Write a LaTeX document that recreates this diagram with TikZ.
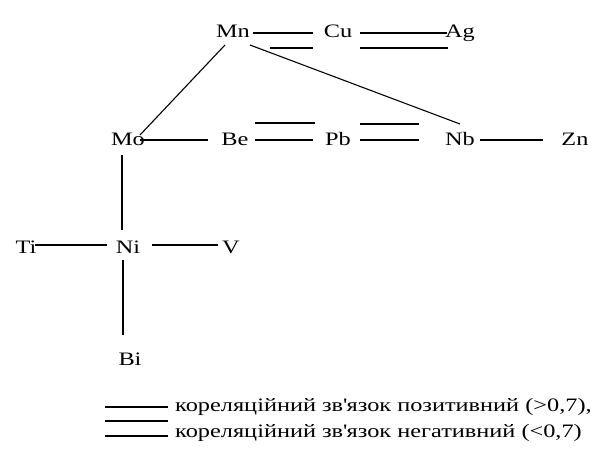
\documentclass[tikz,border=0pt]{standalone}
\usepackage{fontspec}
\setmainfont[FakeStretch=1.28]{Liberation Serif}
\begin{document}
\begin{tikzpicture}[x=1pt,y=-1pt,
  el/.style={inner sep=0pt,anchor=base,font=\fontsize{19}{21}\selectfont},
  lg/.style={inner sep=0pt,anchor=base west,font=\fontsize{19}{21}\selectfont},
  ln/.style={line width=1.1pt}]
\useasboundingbox (0,0) rectangle (592,458);
\node[el] (Mn) at (233,37) {Mn};
\node[el] (Cu) at (338,37) {Cu};
\node[el] (Ag) at (460,37) {Ag};
\node[el] (Mo) at (128,145) {Mo};
\node[el] (Be) at (235,145) {Be};
\node[el] (Pb) at (338,145) {Pb};
\node[el] (Nb) at (460,145) {Nb};
\node[el] (Zn) at (575,145) {Zn};
\node[el] (Ti) at (26,253) {Ti};
\node[el] (Ni) at (128,253) {Ni};
\node[el] (V) at (231,253) {V};
\node[el] (Bi) at (130,365) {Bi};
% Mn - Cu negative
\draw[ln] ([shift={(20,-4)}]Mn.base) -- ([shift={(-25,-4)}]Cu.base);
\draw[ln] ([shift={(37,11)}]Mn.base) -- ([shift={(-25,11)}]Cu.base);
% Cu - Ag negative
\draw[ln] ([shift={(22,-4)}]Cu.base) -- ([shift={(-13,-4)}]Ag.base);
\draw[ln] ([shift={(22,11)}]Cu.base) -- ([shift={(-12,11)}]Ag.base);
% diagonals
\draw[ln] ([shift={(-8,8)}]Mn.base) -- ([shift={(12,-10)}]Mo.base);
\draw[ln] ([shift={(17,8)}]Mn.base) -- ([shift={(0,-21)}]Nb.base);
% row 2
\draw[ln] ([shift={(12,-5)}]Mo.base) -- ([shift={(-27,-5)}]Be.base);
\draw[ln] ([shift={(20,-22)}]Be.base) -- ([shift={(-23,-22)}]Pb.base);
\draw[ln] ([shift={(20,-5)}]Be.base) -- ([shift={(-25,-5)}]Pb.base);
\draw[ln] ([shift={(22,-21)}]Pb.base) -- ([shift={(-41,-21)}]Nb.base);
\draw[ln] ([shift={(22,-5)}]Pb.base) -- ([shift={(-41,-5)}]Nb.base);
\draw[ln] ([shift={(20,-5)}]Nb.base) -- ([shift={(-32,-5)}]Zn.base);
% vertical Mo - Ni - Bi
\draw[ln] ([shift={(-6,10)}]Mo.base) -- ([shift={(-6,-23)}]Ni.base);
\draw[ln] ([shift={(-5,7)}]Ni.base) -- ([shift={(-7,-30)}]Bi.base);
% row 3
\draw[ln] ([shift={(9,-8)}]Ti.base) -- ([shift={(-21,-8)}]Ni.base);
\draw[line width=1.6pt] ([shift={(24,-8)}]Ni.base) -- ([shift={(-13,-8)}]V.base);
% legend
\coordinate (a1) at (105,407);
\coordinate (a2) at (168,407);
\coordinate (b1) at (105,421);
\coordinate (b2) at (168,421);
\coordinate (c1) at (105,436);
\coordinate (c2) at (168,436);
\draw[ln] (a1) -- (a2);
\draw[ln] (b1) -- (b2);
\draw[ln] (c1) -- (c2);
\node[lg] (t1) at (175,411) {кореляційний зв\textquotesingle язок позитивний (>0,7),};
\node[lg] (t2) at (175,437) {кореляційний зв\textquotesingle язок негативний (<0,7)};
\end{tikzpicture}
\end{document}
